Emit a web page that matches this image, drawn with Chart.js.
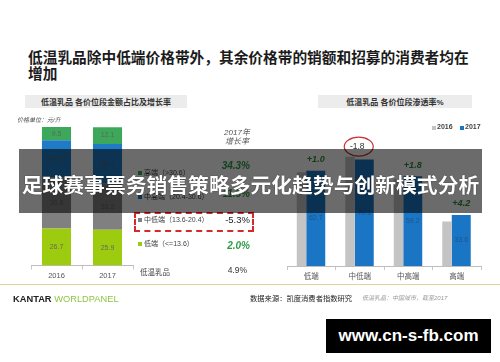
<!DOCTYPE html>
<html>
<head>
<meta charset="utf-8">
<script src="https://cdn.jsdelivr.net/npm/chart.js@4.4.1/dist/chart.umd.min.js"></script>
<style>
html, body { margin: 0; padding: 0; background: #fff; }
#page { position: relative; width: 500px; height: 362px; overflow: hidden; background: #fff;
        font-family: Arial, "Liberation Sans", "Noto Sans CJK SC", sans-serif; }
.t { position: absolute; white-space: nowrap; }
canvas { position: absolute; }
</style>
</head>
<body>
<div id="page">
  <canvas id="shareChart" width="150" height="170" style="left:0;top:115px"></canvas>
  <canvas id="penChart" width="230" height="170" style="left:270px;top:115px"></canvas>
</div>
<script>
// left chart: share of sales by price band
const years = ['2016', '2017'];
const segNames = ['高端', '中高端', '中低端', '低端'];
const segRanges = ['（>30.6）', '（20.4-30.6）', '（13.6-20.4）', '（<=13.6）'];
const highShare = [9.5, 12.1];
const midHighShare = [27.0, 28.7];
const midLowShare = [36.8, 33.2];
const lowShare = [26.7, 25.9];
const growth2017 = ['34.3%', '11.5%', '-5.3%', '2.0%'];
const totalGrowth = '4.9%';

// right chart: penetration by price band
const tiers = ['低端', '中低端', '中高端', '高端'];
const pen2016 = [61.7, 71.9, 57.4, 29.4];
const pen2017 = [62.7, 70.1, 59.2, 33.6];
const penChange = ['+1.0', '-1.8', '+1.8', '+4.2'];

const segColors = ['#3da85c', '#1f7bc6', '#808080', '#9ccb10'];
const green = '#2f9a47';
const page = document.getElementById('page');

function put(txt, x, cy, size, css, align) {
  const d = document.createElement('div');
  d.className = 't';
  d.textContent = txt;
  d.style.cssText = `left:${x}px;top:${cy - size * 0.6}px;font-size:${size}px;line-height:${size * 1.2}px;` + (css || '');
  if (align === 'center') d.style.transform = 'translateX(-50%)';
  if (align === 'right') d.style.transform = 'translateX(-100%)';
  page.appendChild(d);
  return d;
}
function box(x, y, w, h, css) {
  const d = document.createElement('div');
  d.style.cssText = `position:absolute;left:${x}px;top:${y}px;width:${w}px;height:${h}px;` + css;
  page.appendChild(d);
  return d;
}

const shareLabels = {
  id: 'shareLabels',
  afterDatasetsDraw(chart) {
    const ctx = chart.ctx;
    ctx.save();
    ctx.font = '7px "Liberation Sans", Arial';
    ctx.textAlign = 'center';
    ctx.textBaseline = 'middle';
    ctx.fillStyle = 'rgba(95,95,95,0.9)';
    chart.data.datasets.forEach((ds, di) => {
      chart.getDatasetMeta(di).data.forEach((bar, i) => {
        ctx.fillText(ds.data[i].toFixed(1), bar.x, (bar.y + bar.base) / 2);
      });
    });
    ctx.restore();
  }
};

const penLabels = {
  id: 'penLabels',
  afterDatasetsDraw(chart) {
    const ctx = chart.ctx;
    ctx.save();
    ctx.textAlign = 'center';
    ctx.textBaseline = 'middle';
    chart.getDatasetMeta(1).data.forEach((bar, i) => {
      ctx.font = '7px "Liberation Sans", Arial';
      ctx.fillStyle = 'rgba(35,75,125,0.8)';
      ctx.fillText(pen2017[i].toFixed(1), bar.x, (bar.y + bar.base) / 2);
      const d = penChange[i];
      if (d[0] === '+') {
        ctx.font = 'italic bold 9px "Liberation Sans", Arial';
        ctx.fillStyle = '#2e8a3c';
        ctx.fillText(d, bar.x, bar.y - 11);
      } else {
        const lx = bar.x - 7, ly = bar.y - 13;
        ctx.font = '8.5px "Liberation Sans", Arial';
        ctx.fillStyle = '#333';
        ctx.fillText(d, lx, ly);
        ctx.beginPath();
        ctx.ellipse(lx + 1.5, ly, 14.5, 9.5, 0, 0, Math.PI * 2);
        ctx.strokeStyle = '#c83232';
        ctx.lineWidth = 1.2;
        ctx.stroke();
      }
    });
    ctx.restore();
  }
};

const axisX = (pad) => ({
  grid: { display: true, drawOnChartArea: false, tickLength: 4, color: '#c8c8c8' },
  border: { color: '#bdbdbd' },
  ticks: { color: '#555', padding: pad, font: { size: 7.5, family: 'Arial, "Liberation Sans", "Noto Sans CJK SC"' } }
});

new Chart(document.getElementById('shareChart'), {
  type: 'bar',
  data: {
    labels: years,
    datasets: [
      { label: segNames[3], data: lowShare, backgroundColor: segColors[3] },
      { label: segNames[2], data: midLowShare, backgroundColor: segColors[2] },
      { label: segNames[1], data: midHighShare, backgroundColor: segColors[1] },
      { label: segNames[0], data: highShare, backgroundColor: segColors[0] }
    ]
  },
  options: {
    responsive: false, animation: false, devicePixelRatio: 1,
    layout: { padding: { left: 31, right: 17, top: 12, bottom: 3.5 } },
    datasets: { bar: { categoryPercentage: 1, barPercentage: 0.57 } },
    plugins: { legend: { display: false }, tooltip: { enabled: false } },
    scales: {
      x: Object.assign(axisX(1.5), { stacked: true }),
      y: { display: false, stacked: true, min: 0, max: 100 }
    }
  },
  plugins: [shareLabels]
});

new Chart(document.getElementById('penChart'), {
  type: 'bar',
  data: {
    labels: tiers,
    datasets: [
      { label: '2016', data: pen2016, backgroundColor: '#c4c4c4', categoryPercentage: 0.804, barPercentage: 0.487 },
      { label: '2017', data: pen2017, backgroundColor: '#1a76c4', categoryPercentage: 0.371, barPercentage: 2.11 }
    ]
  },
  options: {
    responsive: false, animation: false, devicePixelRatio: 1,
    layout: { padding: { left: 17, right: 19, top: 14.4, bottom: 2 } },
    plugins: { legend: { display: false }, tooltip: { enabled: false } },
    scales: {
      x: axisX(2),
      y: { display: false, min: 0, max: 90 }
    }
  },
  plugins: [penLabels]
});

// title
const titleFont = 'font-weight:bold;color:#1b1b1b;font-family:"Noto Sans CJK SC",sans-serif;';
put('低温乳品除中低端价格带外，其余价格带的销额和招募的消费者均在', 28, 57, 14.7, titleFont);
put('增加', 28, 73, 14.7, titleFont);

// panel headers
box(25, 95, 162, 13, 'background:#ececec;');
put('低温乳品 各价位段金额占比及增长率', 106, 102.5, 8, 'font-weight:bold;color:#333;', 'center');
box(318, 95, 154, 13, 'background:#ececec;');
put('低温乳品 各价位段渗透率%', 395, 102.5, 8, 'font-weight:bold;color:#333;', 'center');
put('价格单位：元/升', 17, 120.5, 6, 'font-style:italic;color:#555;');

// growth column
put('2017年', 237, 133, 8, 'font-style:italic;color:#555;', 'center');
put('增长率', 237, 142, 8, 'font-style:italic;color:#555;', 'center');
const segY = [172.7, 197.3, 220, 244];
const growthY = [166, 194, 220, 245.5];
segNames.forEach((n, i) => {
  box(138, segY[i] - 2, 4, 4, 'background:' + segColors[i] + ';');
  put(n + segRanges[i], 144, segY[i], 7, 'color:#444;');
  const neg = growth2017[i][0] === '-';
  put(growth2017[i], 250, growthY[i], neg ? 9.5 : 10,
      neg ? 'color:#222;' : 'color:' + green + ';font-weight:bold;font-style:italic;', 'right');
});
put('低温乳品', 140, 272, 7.5, 'color:#444;');
put(totalGrowth, 247, 270.5, 8.5, 'color:#333;', 'right');
box(134, 212, 120, 20, 'box-sizing:border-box;border:2px dashed #d42a2a;');

// right legend
box(432, 125.5, 4, 4, 'background:#c4c4c4;');
put('2016', 437, 127.5, 7, 'font-weight:bold;color:#444;');
box(460, 125.5, 4, 4, 'background:#1a76c4;');
put('2017', 465, 127.5, 7, 'font-weight:bold;color:#444;');

// footer
box(0, 284, 500, 1.2, 'background:#e3d3a3;');
const k = put('KANTAR ', 13, 300, 9.3, 'font-weight:bold;color:#222;');
const w = document.createElement('span');
w.textContent = 'WORLDPANEL';
w.style.cssText = 'font-weight:normal;color:#8dc63f;';
k.appendChild(w);
put('数据来源：凯度消费者指数研究', 250, 299.5, 7.3, 'color:#222;');
put('低温乳品：中国城市，截至2017', 362, 299, 6, 'font-style:italic;color:#999;');

// overlay banner and watermark
box(19, 149, 463, 64, 'background:rgba(0,0,0,0.58);');
put('足球赛事票务销售策略多元化趋势与创新模式分析', 250.5, 184, 20.8,
    'font-weight:bold;color:#fff;font-family:"Noto Sans CJK SC",sans-serif;text-shadow:0 0 1px #000;', 'center');
box(326, 319, 165, 34, 'background:#000;');
put('www.cn-s-fb.com', 408.5, 336.5, 17, 'font-weight:bold;color:#fff;font-family:"Liberation Sans",Arial;', 'center');
</script>
</body>
</html>
